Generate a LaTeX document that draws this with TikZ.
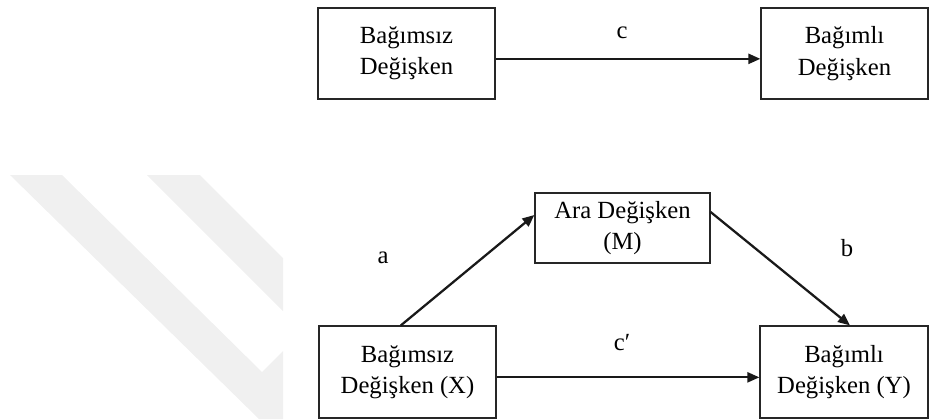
\documentclass[tikz,border=0pt]{standalone}
\usepackage{fontspec}
\setmainfont{Liberation Serif}
\usetikzlibrary{arrows.meta}

\begin{document}
\begin{tikzpicture}[x=0.75pt, y=-0.75pt,
    kutu/.style={draw=black!85, line width=0.9pt, align=center, inner sep=0pt,
      font=\fontsize{18.5}{23.5}\selectfont},
    ok/.style={draw=black!90, line width=1.7pt, -{Triangle[length=9pt,width=7.5pt]}},
    etiket/.style={font=\fontsize{18.5}{23.5}\selectfont}]
    \useasboundingbox (0,0) rectangle (929,419);

    % 背景水印 (浅灰色斜条)
    \fill[gray!12] (10,175) -- (62,175) -- (262,372) -- (283,351) -- (283,419) -- (259,419) -- cycle;
    \fill[gray!12] (147,175) -- (200,175) -- (283,258) -- (283,311) -- cycle;

    % 1. 上方: 总效应 c
    \node[kutu, minimum width=132.75pt, minimum height=68.25pt] (bag1) at (406.5,53.5) {Bağımsız\\Değişken};
    \node[kutu, minimum width=125.25pt, minimum height=68.25pt] (bgl1) at (844.5,53.5) {Bağımlı\\Değişken};
    \draw[ok] ([yshift=-4pt]bag1.east) -- ([yshift=-4pt]bgl1.west);
    \node[etiket] (c) at (622,33) {c};

    % 2. 下方: 中介模型
    \node[kutu, minimum width=131.25pt, minimum height=52.5pt] (ara) at (622.5,228) {Ara Değişken\\(M)};
    \node[kutu, minimum width=132.75pt, minimum height=69pt] (bag2) at (407.5,372) {Bağımsız\\Değişken (X)};
    \node[kutu, minimum width=126pt, minimum height=69pt] (bgl2) at (844,372) {Bağımlı\\Değişken (Y)};

    % 路径 a, b, c′
    \draw[ok] ([xshift=-5pt]bag2.north) -- ([yshift=9.75pt]ara.west);
    \draw[ok] ([yshift=12pt]ara.east) -- ([xshift=4.5pt]bgl2.north);
    \draw[ok] ([yshift=-4pt]bag2.east) -- ([yshift=-4pt]bgl2.west);
    \node[etiket] (a) at (383,258) {a};
    \node[etiket] (b) at (847,248) {b};
    \node[etiket] (cp) at (622,343) {c′};
  \end{tikzpicture}
\end{document}
